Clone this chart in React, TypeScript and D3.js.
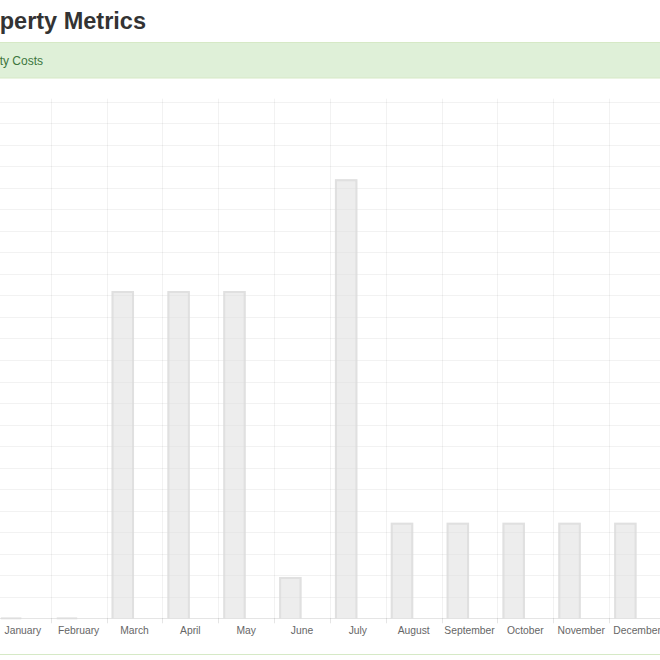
import React from "react";
import * as d3 from "d3";

const MONTHS = [
  "January", "February", "March", "April", "May", "June",
  "July", "August", "September", "October", "November", "December",
];
const COSTS = [0, 0, 1900, 1900, 1900, 240, 2550, 555, 555, 555, 555, 555];
const Y_MAX = 3000;
const Y_STEP = 125;
const TITLE = "Property Metrics";
const SECTION = "Utility Costs";

const W = 660;
const H = 660;
const FONT = "'Helvetica Neue', Helvetica, Arial, 'Liberation Sans', sans-serif";

export default function App() {
  const x = d3.scaleBand<string>().domain(MONTHS).range([-5.1, 665]).paddingInner(0).paddingOuter(0);
  const y = d3.scaleLinear().domain([0, Y_MAX]).range([618.3, 101.7]);
  const yTicks = d3.range(0, Y_MAX + 1, Y_STEP);
  const bw = x.bandwidth();
  const barW = (bw - 10 - 1) / 2;
  const crisp = (v: number) => Math.round(v) + 0.5;
  const base = y(0);
  const top = y(Y_MAX);
  const boundaries = MONTHS.map((m) => x(m) as number).concat([(x(MONTHS[11]) as number) + bw]);

  return (
    <svg width={W} height={H} style={{ position: "absolute", left: 0, top: 0, background: "#fff" }}>
      <text x={146} y={29} textAnchor="end" fontFamily={FONT} fontWeight="bold" fontSize={23.5} fill="#333">
        {TITLE}
      </text>
      <rect x={-10} y={42.5} width={W + 20} height={35.5} rx={4} fill="#dff0d8" stroke="#d6e9c6" />
      <text x={43} y={65} textAnchor="end" fontFamily={FONT} fontSize={12} fill="#3c763d">
        {SECTION}
      </text>

      {/* horizontal gridlines */}
      {yTicks.map((t, i) => (
        <line
          key={"h" + t}
          x1={boundaries[0] - 5}
          x2={boundaries[12]}
          y1={crisp(y(t))}
          y2={crisp(y(t))}
          stroke={i === 0 ? "rgba(0,0,0,0.1)" : "rgba(0,0,0,0.05)"}
          strokeWidth={1}
        />
      ))}
      {/* vertical gridlines */}
      {boundaries.map((b, i) => (
        <g key={"v" + i}>
          <line
            x1={crisp(b)}
            x2={crisp(b)}
            y1={top - 3}
            y2={base}
            stroke={i === 0 ? "rgba(0,0,0,0.1)" : "rgba(0,0,0,0.05)"}
          />
          <line x1={crisp(b)} x2={crisp(b)} y1={base} y2={base + 5} stroke="rgba(0,0,0,0.1)" />
        </g>
      ))}

      {/* bars */}
      {MONTHS.map((m, i) => {
        const left = (x(m) as number) + 5;
        const right = left + barW;
        const yv = y(COSTS[i]);
        const l = left + 1;
        const r = right - 1;
        const t = Math.min(yv + 1, base);
        return (
          <g key={"b" + m}>
            <rect x={left} y={yv} width={barW} height={base - yv} fill="rgba(220,220,220,0.5)" />
            <path
              d={`M${l},${base}L${l},${t}L${r},${t}L${r},${base}`}
              fill="none"
              stroke="rgba(220,220,220,0.8)"
              strokeWidth={2}
            />
          </g>
        );
      })}

      {/* x labels */}
      {MONTHS.map((m) => (
        <text
          key={"l" + m}
          x={(x(m) as number) + bw / 2}
          y={634}
          textAnchor="middle"
          fontFamily={FONT}
          fontSize={10.3}
          fill="#666"
        >
          {m}
        </text>
      ))}

      <line x1={0} x2={W} y1={654.5} y2={654.5} stroke="#d6e9c6" />
    </svg>
  );
}
